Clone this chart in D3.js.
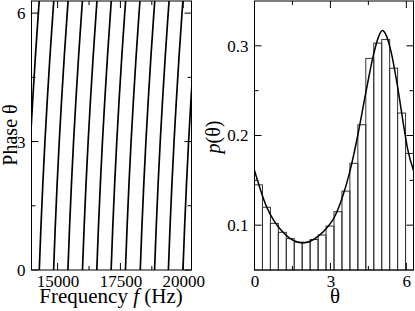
<!DOCTYPE html>
<html>
<head>
<meta charset="utf-8">
<script src="https://cdn.jsdelivr.net/npm/d3@7"></script>
<style>
    body { margin: 0; background: #fff; }
    svg { display: block; }
    text { font-family: "Liberation Serif", "Times New Roman", serif; fill: #000; }
</style>
</head>
<body>
<div id="chart"></div>
<script>

// left panel: frequency (Hz) where each phase branch leaves theta = 0
const branchStarts = [13690, 14270, 14840, 15410, 15990, 16560, 17130, 17700, 18290, 18860, 19410, 19990];
// drift of a branch away from its start
const branchPhase = [0, 1, 2, 3, 4, 5, 6, 6.283];
const branchDrift = [0, 65, 140, 225, 321, 426, 542, 577];

// right panel: histogram of theta, 20 bins over [0, 2pi]
const histValues = [0.145, 0.120, 0.102, 0.092, 0.085, 0.081, 0.081, 0.084, 0.089, 0.099,
    0.115, 0.138, 0.169, 0.212, 0.286, 0.303, 0.307, 0.275, 0.225, 0.180];
// fitted density
const fitTheta = [0, 0.47, 0.79, 1.10, 1.41, 1.73, 1.90, 2.20, 2.51, 2.83, 3.14, 3.46,
    3.77, 4.08, 4.40, 4.71, 4.90, 5.05, 5.20, 5.40, 5.65, 5.90, 6.05, 6.283];
const fitP = [0.161, 0.121, 0.104, 0.093, 0.085, 0.081, 0.0802, 0.082, 0.0875, 0.096, 0.108, 0.130,
    0.160, 0.200, 0.248, 0.291, 0.310, 0.317, 0.312, 0.293, 0.255, 0.210, 0.185, 0.161];

// ticks
const freqMajor = [15000, 17500, 20000];
const freqMinor = [16250, 18750];
const phaseMajor = [0, 3, 6];
const phaseMinor = [1.5, 4.5];
const pMajor = [0.1, 0.2, 0.3];
const pMinor = [0.15, 0.25];

const TWO_PI = 2 * Math.PI;
const plotTop = 1, plotBottom = 270;

let svg = d3.select("#chart").append("svg")
    .attr("width", 415)
    .attr("height", 311);

// frame, inward ticks on all four sides, and tick labels of one panel
function frameTicks(g, x, y, xMaj, xMin, yMaj, yMin, xFmt, yFmt) {
    let [x0, x1] = x.range();
    let [y0, y1] = y.range();
    let seg = [];
    xMaj.forEach(v => seg.push([x(v), y0, x(v), y0 - 7], [x(v), y1, x(v), y1 + 7]));
    xMin.forEach(v => seg.push([x(v), y0, x(v), y0 - 4], [x(v), y1, x(v), y1 + 4]));
    yMaj.forEach(v => seg.push([x0, y(v), x0 + 7, y(v)], [x1, y(v), x1 - 7, y(v)]));
    yMin.forEach(v => seg.push([x0, y(v), x0 + 4, y(v)], [x1, y(v), x1 - 4, y(v)]));

    g.selectAll(".tick-line").data(seg).enter().append("line")
        .attr("x1", d => d[0]).attr("y1", d => d[1])
        .attr("x2", d => d[2]).attr("y2", d => d[3])
        .attr("stroke", "#000")
        .attr("stroke-width", 1);

    g.append("rect")
        .attr("x", x0).attr("y", y1)
        .attr("width", x1 - x0).attr("height", y0 - y1)
        .attr("fill", "none")
        .attr("stroke", "#000")
        .attr("stroke-width", 1);

    // labels come from d3 axes, their own tick marks hidden
    g.append("g")
        .attr("transform", `translate(0,${y0})`)
        .call(d3.axisBottom(x).tickValues(xMaj).tickSize(0).tickPadding(5).tickFormat(xFmt))
        .call(a => a.select(".domain").remove())
        .selectAll("text").attr("font-size", 17).attr("dy", "0.71em");

    g.append("g")
        .attr("transform", `translate(${x0},0)`)
        .call(d3.axisLeft(y).tickValues(yMaj).tickSize(0).tickPadding(6).tickFormat(yFmt))
        .call(a => a.select(".domain").remove())
        .selectAll("text").attr("font-size", 17);
}

/*
 *  Left panel: phase branches vs frequency
 */
let xf = d3.scaleLinear().domain([13960, 20330]).range([31.5, 191.5]);
let yph = d3.scaleLinear().domain([0, TWO_PI]).range([plotBottom, plotTop]);

let left = svg.append("g");

left.append("clipPath").attr("id", "clip-left")
    .append("rect")
    .attr("x", xf.range()[0]).attr("y", plotTop)
    .attr("width", xf.range()[1] - xf.range()[0])
    .attr("height", plotBottom - plotTop);

let branchLine = d3.line()
    .x(d => xf(d[0]))
    .y(d => yph(d[1]))
    .curve(d3.curveMonotoneY);

left.append("g")
    .attr("clip-path", "url(#clip-left)")
    .selectAll("path")
    .data(branchStarts)
    .enter().append("path")
    .attr("d", f0 => branchLine(branchPhase.map((p, i) => [f0 + branchDrift[i], p])))
    .attr("fill", "none")
    .attr("stroke", "#000")
    .attr("stroke-width", 1.7);

frameTicks(left, xf, yph, freqMajor, freqMinor, phaseMajor, phaseMinor,
    d3.format("d"), d3.format("d"));

left.append("text")
    .attr("x", 111).attr("y", 303)
    .attr("text-anchor", "middle")
    .attr("font-size", 21)
    .html('Frequency  <tspan font-style="italic">f</tspan> (Hz)');

left.append("text")
    .attr("transform", "translate(17,135) rotate(-90)")
    .attr("text-anchor", "middle")
    .attr("font-size", 20)
    .text("Phase θ");

/*
 *  Right panel: histogram of theta with fitted density
 */
let xt = d3.scaleLinear().domain([0, TWO_PI]).range([254.5, 413.5]);
let yp = d3.scaleLinear().domain([0.05, 0.35]).range([plotBottom, plotTop]);

let right = svg.append("g");
let binW = TWO_PI / histValues.length;

right.selectAll(".bar")
    .data(histValues)
    .enter().append("rect")
    .attr("class", "bar")
    .attr("x", (d, i) => xt(i * binW))
    .attr("y", d => yp(d))
    .attr("width", xt(binW) - xt(0))
    .attr("height", d => yp(0.05) - yp(d))
    .attr("fill", "none")
    .attr("stroke", "#333")
    .attr("stroke-width", 1);

right.append("path")
    .datum(fitTheta.map((t, i) => [t, fitP[i]]))
    .attr("d", d3.line().x(d => xt(d[0])).y(d => yp(d[1])).curve(d3.curveMonotoneX))
    .attr("fill", "none")
    .attr("stroke", "#000")
    .attr("stroke-width", 1.5);

frameTicks(right, xt, yp, phaseMajor, phaseMinor, pMajor, pMinor,
    d3.format("d"), d3.format(".1f"));

right.append("text")
    .attr("x", 335).attr("y", 303)
    .attr("text-anchor", "middle")
    .attr("font-size", 21)
    .text("θ");

right.append("text")
    .attr("transform", "translate(220,137) rotate(-90)")
    .attr("text-anchor", "middle")
    .attr("font-size", 20)
    .html('<tspan font-style="italic">p</tspan>(θ)');

</script>
</body>
</html>
